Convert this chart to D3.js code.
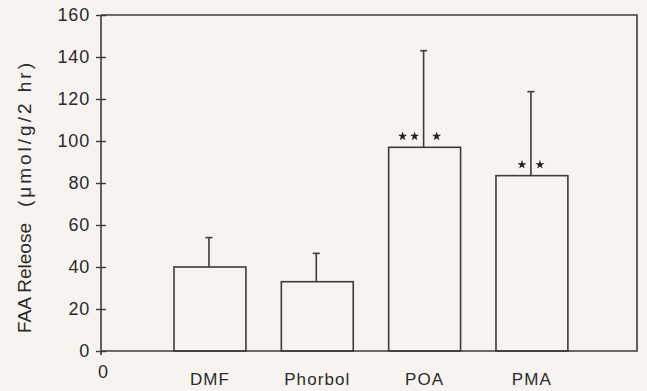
<!DOCTYPE html>
<html>
<head>
<meta charset="utf-8">
<script src="https://cdn.jsdelivr.net/npm/d3@7"></script>
<style>
  html, body { margin: 0; padding: 0; background: #f7f4ef; }
  svg { display: block; }
  text { font-family: "Liberation Sans", Arial, Helvetica, sans-serif; fill: #2a2a2a; }
</style>
</head>
<body>
<script>
// ---- data ----
const categories = ["DMF", "Phorbol", "POA", "PMA"];
const means = [40, 33, 97, 83.5];
const errors = [14, 13.5, 46, 40];
const starsLeft = [0, 0, 2, 1];   // significance marks left of error bar
const starsRight = [0, 0, 1, 1];  // significance marks right of error bar
const yTicks = [0, 20, 40, 60, 80, 100, 120, 140, 160];
const yLabel = "FAA Releose  (\u03bcmol/g/2 hr)";

(function () {
const W = 647, H = 391;
const mLeft = 101, mRight = 637, mTop = 15, mBottom = 351;
const ink = "#3b3b3b";

const svg = d3.select("body").append("svg").attr("width", W).attr("height", H);

const y = d3.scaleLinear().domain([0, 160]).range([mBottom, mTop]);
const x = d3.scaleBand().domain(categories).range([138.6, 603.3]).paddingInner(0.33).paddingOuter(0.33);

// frame: top, right and bottom
svg.append("path")
  .attr("d", `M${mLeft},${mTop}H${mRight}V${mBottom}H${mLeft}`)
  .attr("fill", "none").attr("stroke", ink).attr("stroke-width", 1.6);

// y axis
const yAxis = d3.axisLeft(y).tickValues(yTicks).tickSize(5).tickPadding(6);
const gy = svg.append("g").attr("transform", `translate(${mLeft},0)`).call(yAxis);
gy.select(".domain").attr("stroke", ink).attr("stroke-width", 1.6).attr("d", `M0,${mTop}V${mBottom + 4}`);
gy.selectAll(".tick line").attr("stroke", ink).attr("stroke-width", 1.4).attr("x1", 5).attr("x2", -5);
gy.selectAll(".tick text")
  .attr("x", -11)
  .style("font-size", "18px")
  .style("letter-spacing", "0.8px")
  .style("font-family", "'Liberation Sans', Arial, sans-serif")
  .attr("fill", "#2a2a2a");

// x axis categories
const xAxis = d3.axisBottom(x).tickSize(0).tickPadding(22);
const gx = svg.append("g").attr("transform", `translate(0,${mBottom})`).call(xAxis);
gx.select(".domain").remove();
gx.selectAll(".tick text")
  .style("font-size", "17px")
  .style("letter-spacing", "1.1px")
  .style("font-family", "'Liberation Sans', Arial, sans-serif")
  .attr("fill", "#2a2a2a");

// "0" below origin
svg.append("text").attr("x", mLeft + 2).attr("y", 378)
  .attr("text-anchor", "middle").style("font-size", "18px").text("0");

// bars
const data = categories.map((c, i) => ({ c, m: means[i], e: errors[i], l: starsLeft[i], r: starsRight[i] }));

svg.append("g").selectAll("rect").data(data).join("rect")
  .attr("x", d => x(d.c))
  .attr("y", d => y(d.m))
  .attr("width", x.bandwidth())
  .attr("height", d => y(0) - y(d.m))
  .attr("fill", "none").attr("stroke", ink).attr("stroke-width", 1.6);

// error bars (upper only)
const eb = svg.append("g").selectAll("g").data(data).join("g");
eb.append("line")
  .attr("x1", d => x(d.c) + x.bandwidth() / 2 - 1)
  .attr("x2", d => x(d.c) + x.bandwidth() / 2 - 1)
  .attr("y1", d => y(d.m))
  .attr("y2", d => y(d.m + d.e))
  .attr("stroke", ink).attr("stroke-width", 1.6);
eb.append("line")
  .attr("x1", d => x(d.c) + x.bandwidth() / 2 - 4.5)
  .attr("x2", d => x(d.c) + x.bandwidth() / 2 + 2.5)
  .attr("y1", d => y(d.m + d.e))
  .attr("y2", d => y(d.m + d.e))
  .attr("stroke", ink).attr("stroke-width", 1.6);

// significance stars
const star = d3.symbol().type(d3.symbolStar).size(26);
data.forEach(d => {
  const cx = x(d.c) + x.bandwidth() / 2 - 1;
  const cy = y(d.m) - 11;
  for (let k = 0; k < d.l; k++) {
    const sx = cx - 9 - k * 12;
    svg.append("path").attr("d", star()).attr("transform", `translate(${sx},${cy})`).attr("fill", "#222");
  }
  for (let k = 0; k < d.r; k++) {
    const sx = cx + (d.l > 1 ? 13 : 9) + k * 12;
    svg.append("path").attr("d", star()).attr("transform", `translate(${sx},${cy})`).attr("fill", "#222");
  }
});

// y label (two parts, as in the original)
const parts = yLabel.split("  ");
const spans = [[333, 110], [207, 144]];
parts.forEach((p, i) => {
  svg.append("text")
    .attr("transform", `translate(31,${spans[i][0]}) rotate(-90)`)
    .attr("text-anchor", "start")
    .attr("textLength", spans[i][1])
    .attr("lengthAdjust", "spacing")
    .style("font-size", "19px")
    .text(p);
});
})();
</script>
</body>
</html>
